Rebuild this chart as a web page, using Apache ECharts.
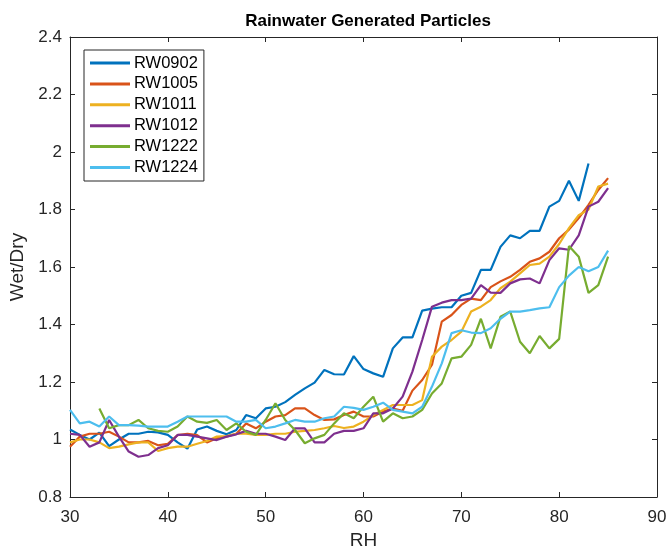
<!DOCTYPE html>
<html>
<head>
<meta charset="utf-8">
<script src="https://cdn.jsdelivr.net/npm/echarts@6/dist/echarts.min.js"></script>
<style>
  html, body { margin: 0; padding: 0; background: #ffffff; }
  #chart { width: 668px; height: 552px; }
</style>
</head>
<body>
<div id="chart"></div>
<script>
// Relative humidity (%) sample points for each sample
const rhFull = [30,31,32,33,34,35,36,37,38,39,40,41,42,43,44,45,46,47,48,49,50,51,52,53,54,55,56,57,58,59,60,61,62,63,64,65,66,67,68,69,70,71,72,73,74,75,76,77,78,79,80,81,82,83,84,85];
const rh0902 = rhFull.slice(0, 54);   // 30..83
const rh1222 = rhFull.slice(3);       // 33..85

const seriesNames = ['RW0902', 'RW1005', 'RW1011', 'RW1012', 'RW1222', 'RW1224'];
const seriesColors = ['#0072BD', '#D95319', '#EDB120', '#7E2F8E', '#77AC30', '#4DBEEE'];

// Wet/Dry growth factor per sample
const rw0902 = [1.035,1.016,1.00,1.024,0.977,1.00,1.02,1.02,1.027,1.025,1.016,0.99,0.968,1.035,1.045,1.03,1.018,1.033,1.085,1.074,1.108,1.114,1.13,1.155,1.178,1.198,1.242,1.227,1.226,1.29,1.245,1.23,1.218,1.317,1.355,1.355,1.448,1.455,1.46,1.46,1.50,1.51,1.59,1.59,1.67,1.71,1.70,1.726,1.726,1.81,1.83,1.90,1.83,1.96];
const rw1005 = [0.975,1.01,1.02,1.02,1.027,1.01,0.99,0.99,0.995,0.98,0.985,1.015,1.02,1.015,0.99,1.004,1.01,1.02,1.056,1.039,1.062,1.08,1.085,1.108,1.108,1.085,1.068,1.07,1.085,1.097,1.08,1.08,1.097,1.108,1.10,1.17,1.207,1.26,1.41,1.433,1.468,1.49,1.485,1.53,1.55,1.566,1.59,1.618,1.63,1.653,1.70,1.73,1.77,1.816,1.868,1.909];
const rw1011 = [0.99,1.0,1.0,0.99,0.97,0.975,0.983,0.99,0.99,0.96,0.97,0.975,0.975,0.985,0.995,1.01,1.012,1.02,1.02,1.016,1.016,1.02,1.02,1.027,1.03,1.033,1.039,1.047,1.04,1.045,1.062,1.085,1.103,1.12,1.12,1.12,1.137,1.288,1.323,1.346,1.375,1.445,1.462,1.485,1.526,1.549,1.578,1.607,1.612,1.636,1.68,1.735,1.78,1.80,1.88,1.89];
const rw1012 = [1.02,1.016,0.975,0.99,1.068,1.01,0.958,0.94,0.946,0.97,0.98,1.016,1.016,1.01,1.004,0.998,1.01,1.018,1.03,1.02,1.02,1.01,0.998,1.039,1.039,0.99,0.99,1.02,1.03,1.03,1.039,1.091,1.091,1.108,1.149,1.236,1.346,1.462,1.476,1.485,1.485,1.49,1.537,1.511,1.51,1.543,1.557,1.56,1.543,1.624,1.665,1.66,1.71,1.81,1.827,1.874];
const rw1222 = [1.108,1.039,1.05,1.05,1.068,1.039,1.03,1.027,1.045,1.08,1.062,1.058,1.068,1.033,1.056,1.027,1.016,1.068,1.126,1.068,1.033,0.987,1.004,1.016,1.056,1.091,1.074,1.114,1.149,1.062,1.091,1.074,1.08,1.103,1.16,1.195,1.282,1.288,1.329,1.42,1.317,1.427,1.445,1.34,1.30,1.36,1.317,1.35,1.673,1.636,1.51,1.537,1.636];
const rw1224 = [1.103,1.056,1.062,1.045,1.08,1.05,1.05,1.048,1.045,1.045,1.045,1.062,1.08,1.08,1.08,1.08,1.08,1.062,1.062,1.068,1.039,1.045,1.056,1.068,1.062,1.062,1.074,1.08,1.114,1.11,1.103,1.114,1.128,1.103,1.097,1.091,1.114,1.184,1.265,1.37,1.38,1.372,1.37,1.387,1.42,1.445,1.445,1.45,1.456,1.46,1.53,1.57,1.60,1.585,1.60,1.657];

const xTicks = [30, 40, 50, 60, 70, 80, 90];
const yTicks = [0.8, 1.0, 1.2, 1.4, 1.6, 1.8, 2.0, 2.2, 2.4];

const seriesX = [rh0902, rhFull, rhFull, rhFull, rh1222, rhFull];
const seriesY = [rw0902, rw1005, rw1011, rw1012, rw1222, rw1224];

const FONT = '"Liberation Sans", Arial, Helvetica, sans-serif';
const AX = '#262626';

function pairs(xs, ys) {
  return ys.map((v, i) => [xs[i], v]);
}

const chart = echarts.init(document.getElementById('chart'), null, { renderer: 'canvas' });

const axisCommon = {
  type: 'value',
  axisLine: { show: true, onZero: false, lineStyle: { color: AX, width: 1 } },
  axisTick: { show: true, inside: true, length: 5, lineStyle: { color: AX, width: 1 } },
  splitLine: { show: false }
};

const option = {
  animation: false,
  backgroundColor: '#ffffff',
  title: {
    text: 'Rainwater Generated Particles',
    left: 363,
    textAlign: 'center',
    top: 8,
    textStyle: { fontFamily: FONT, fontSize: 17, fontWeight: 'bold', color: '#000000' }
  },
  grid: { left: 70, right: 11, top: 37, bottom: 55, containLabel: false, outerBoundsMode: 'none' },
  legend: {
    orient: 'vertical',
    left: 84,
    top: 50,
    data: seriesNames,
    icon: 'rect',
    itemWidth: 40,
    itemHeight: 3,
    itemGap: 2.9,
    padding: [4, 6, 4.5, 6],
    borderColor: AX,
    borderWidth: 1,
    backgroundColor: '#ffffff',
    textStyle: { fontFamily: FONT, fontSize: 16.5, color: '#000000', lineHeight: 18, padding: [0, 0, 0, -1] }
  },
  xAxis: [
    Object.assign({}, axisCommon, {
      position: 'bottom',
      min: xTicks[0], max: xTicks[xTicks.length - 1], interval: 10,
      name: 'RH', nameLocation: 'middle', nameGap: 34,
      nameTextStyle: { fontFamily: FONT, fontSize: 19, color: AX },
      axisLabel: { fontFamily: FONT, fontSize: 17, color: AX, margin: 12 }
    }),
    Object.assign({}, axisCommon, {
      position: 'top',
      min: xTicks[0], max: xTicks[xTicks.length - 1], interval: 10,
      axisLabel: { show: false }
    })
  ],
  yAxis: [
    Object.assign({}, axisCommon, {
      position: 'left',
      min: yTicks[0], max: yTicks[yTicks.length - 1], interval: 0.2,
      name: 'Wet/Dry', nameLocation: 'middle', nameGap: 43, nameRotate: 90,
      nameTextStyle: { fontFamily: FONT, fontSize: 19, color: AX },
      axisLabel: { fontFamily: FONT, fontSize: 17, color: AX, margin: 8,
        formatter: v => String(Math.round(v * 10) / 10) }
    }),
    Object.assign({}, axisCommon, {
      position: 'right',
      min: yTicks[0], max: yTicks[yTicks.length - 1], interval: 0.2,
      axisLabel: { show: false }
    })
  ],
  series: seriesNames.map((name, i) => ({
    name: name,
    type: 'line',
    xAxisIndex: 0,
    yAxisIndex: 0,
    data: pairs(seriesX[i], seriesY[i]),
    showSymbol: false,
    symbol: 'none',
    smooth: false,
    color: seriesColors[i],
    lineStyle: { width: 2.2, color: seriesColors[i] },
    itemStyle: { color: seriesColors[i] },
    emphasis: { disabled: true }
  }))
};

chart.setOption(option);
</script>
</body>
</html>
